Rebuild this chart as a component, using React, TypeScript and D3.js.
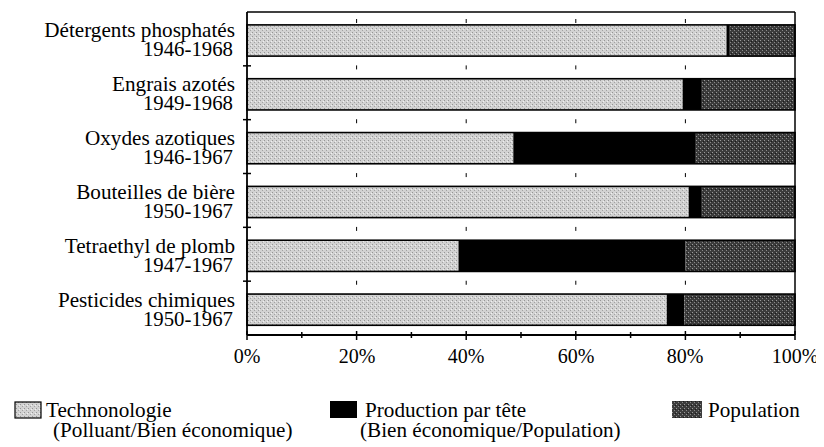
import React from "react";
import * as d3 from "d3";

const categories = [
  "Détergents phosphatés",
  "Engrais azotés",
  "Oxydes azotiques",
  "Bouteilles de bière",
  "Tetraethyl de plomb",
  "Pesticides chimiques",
];
const periods = ["1946-1968", "1949-1968", "1946-1967", "1950-1967", "1947-1967", "1950-1967"];
const technologie = [87.5, 79.5, 48.6, 80.6, 38.6, 76.6];
const production = [0.6, 3.5, 33.3, 2.4, 41.4, 3.2];
const population = [11.9, 17.0, 18.1, 17.0, 20.0, 20.2];
const seriesKeys = ["technologie", "production", "population"];
const xTickValues = [0, 20, 40, 60, 80, 100];

const W = 824;
const H = 447;
const left = 247;
const right = 795;
const top = 12;
const bottom = 335;

function T(props: any) {
  const { x, y, sx = 1.06, anchor = "start", children } = props;
  const tx = Math.round(x);
  const ty = Math.round(y);
  return (
    <text
      transform={sx === 1 ? undefined : `translate(${tx},${ty}) scale(${sx},1)`}
      x={sx === 1 ? tx : undefined}
      y={sx === 1 ? ty : undefined}
      textAnchor={anchor}
      fontSize={20}
      fontFamily="Liberation Serif"
      style={{ fontFamily: '"Liberation Serif"' }}
    >
      {children}
    </text>
  );
}

export default function App() {
  const x = d3.scaleLinear().domain([0, 100]).range([left, right]);
  const y = d3
    .scaleBand<string>()
    .domain(categories)
    .range([top, bottom])
    .paddingInner(0.42)
    .paddingOuter(0.21)
    .align(0.57);

  const table = categories.map((c, i) => ({
    cat: c,
    technologie: technologie[i],
    production: production[i],
    population: population[i],
  }));
  const stacked = d3.stack<any>().keys(seriesKeys)(table);
  const fills: Record<string, string> = {
    technologie: "url(#techPat)",
    production: "#000",
    population: "url(#popPat)",
  };

  const step = y.step();
  const bw = y.bandwidth();
  const boundaries = categories.slice(1).map((_, i) => top + (i + 1) * (bottom - top) / categories.length);
  const gapMarks = [top + 9, ...categories.slice(0, -1).map((c) => (y(c) as number) + bw + (step - bw) / 2)];
  const minorTicks = d3.range(0, 101, 10);

  return (
    <div style={{ margin: "-8px 0 0 -8px", width: W, height: H }}>
      <svg width={W} height={H} style={{ display: "block" }}>
        <defs>
          <pattern id="techPat" width="4" height="4" patternUnits="userSpaceOnUse">
            <rect width="4" height="4" fill="#d2d2d2" />
            <rect x="0" y="0" width="1" height="1" fill="#959595" />
            <rect x="2" y="2" width="1" height="1" fill="#a2a2a2" />
            <rect x="3" y="1" width="1" height="1" fill="#f0f0f0" />
          </pattern>
          <pattern id="popPat" width="4" height="4" patternUnits="userSpaceOnUse">
            <rect width="4" height="4" fill="#3c3c3c" />
            <rect x="0" y="0" width="1" height="1" fill="#9a9a9a" />
            <rect x="2" y="2" width="1" height="1" fill="#8a8a8a" />
            <rect x="3" y="1" width="1" height="1" fill="#1a1a1a" />
          </pattern>
        </defs>

        {xTickValues.slice(1, -1).map((v) =>
          gapMarks.map((gy, j) => (
            <line key={`g${v}-${j}`} x1={x(v)} x2={x(v)} y1={gy - 2} y2={gy + 2} stroke="#000" strokeWidth={1} />
          ))
        )}

        {stacked.map((s) =>
          s.map((d, i) => (
            <rect
              key={`${s.key}-${i}`}
              x={x(d[0])}
              y={y(categories[i])}
              width={x(d[1]) - x(d[0])}
              height={bw}
              fill={fills[s.key]}
            />
          ))
        )}
        {categories.map((c) => (
          <rect key={`o-${c}`} x={left} y={y(c)} width={right - left} height={bw} fill="none" stroke="#000" strokeWidth={1.6} />
        ))}

        <line x1={left} x2={right} y1={top} y2={top} stroke="#000" strokeWidth={1.5} />
        <line x1={right} x2={right} y1={top} y2={bottom} stroke="#000" strokeWidth={1.5} />
        <line x1={left} x2={left} y1={top} y2={bottom} stroke="#000" strokeWidth={1.8} />
        <line x1={left} x2={right} y1={bottom} y2={bottom} stroke="#000" strokeWidth={1.8} />

        {boundaries.map((b, i) => (
          <line key={`yt${i}`} x1={left - 4} x2={left + 4} y1={b} y2={b} stroke="#000" strokeWidth={1.5} />
        ))}

        {minorTicks.map((v) => {
          const major = v % 20 === 0;
          return (
            <line key={`xt${v}`} x1={x(v)} x2={x(v)} y1={bottom - (major ? 4 : 3)} y2={bottom + (major ? 5 : 3)} stroke="#000" strokeWidth={1.5} />
          );
        })}
        {xTickValues.map((v) => (
          <T key={`xl${v}`} x={x(v)} y={363} sx={1} anchor="middle">
            {`${v}%`}
          </T>
        ))}

        {categories.map((c, i) => {
          const cy = (y(c) as number) + bw / 2;
          return (
            <g key={`l${c}`}>
              <T x={235} y={cy - 3} anchor="end">
                {c}
              </T>
              <T x={233} y={cy + 16} sx={1.04} anchor="end">
                {periods[i]}
              </T>
            </g>
          );
        })}

        <rect x={15} y={402} width={26} height={16} fill="url(#techPat)" stroke="#000" strokeWidth={1.2} />
        <T x={46} y={417}>Technonologie</T>
        <T x={53} y={437}>(Polluant/Bien économique)</T>

        <rect x={330} y={401} width={27} height={17} fill="#000" />
        <T x={365} y={417}>Production par tête</T>
        <T x={360} y={437}>(Bien économique/Population)</T>

        <rect x={672} y={401} width={30} height={17} fill="url(#popPat)" />
        <T x={708} y={417}>Population</T>
      </svg>
    </div>
  );
}
